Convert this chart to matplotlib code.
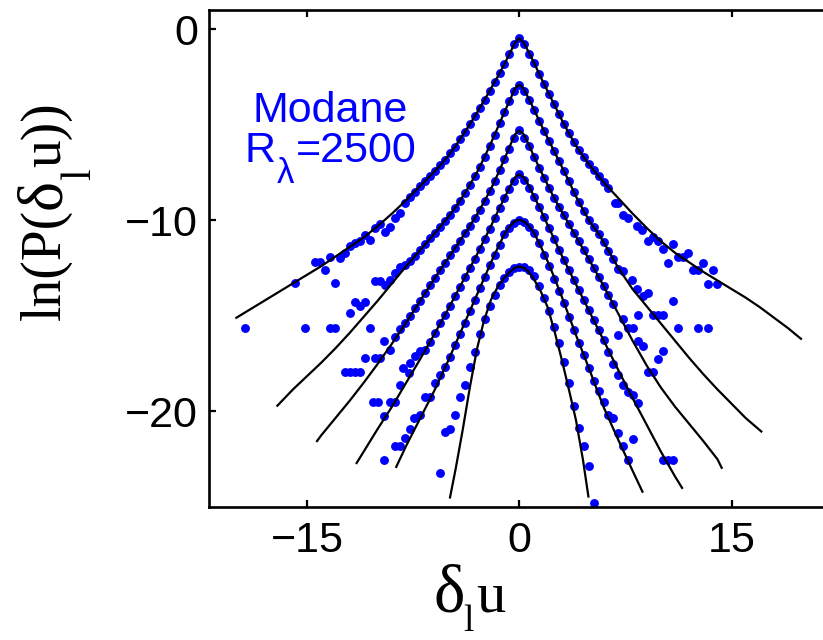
import matplotlib
matplotlib.use("Agg")
import matplotlib.pyplot as plt

# ---------------- fitted curves (black lines) ----------------
c1_line_x = [-20.0, -19, -18, -17, -16, -15, -14, -13, -12, -11, -10, -9, -8, -7, -6, -5.5, -5, -4.5, -4, -3.5, -3, -2.5, -2, -1.5, -1, -0.6, -0.3, 0,
             0.3, 0.6, 1, 1.5, 2, 2.5, 3, 3.5, 4, 4.5, 5, 5.5, 6, 7, 8, 9, 10, 11, 12, 13, 14, 15, 16, 17, 18, 19, 19.9]
c1_line_y = [-15.1, -14.65, -14.2, -13.75, -13.3, -12.85, -12.4, -11.9, -11.4, -10.9, -10.3, -9.65, -8.95, -8.2, -7.45, -7.05, -6.6, -6.1, -5.55, -4.98, -4.38, -3.75, -3.1, -2.45, -1.75, -1.15, -0.7, -0.48,
             -0.7, -1.12, -1.7, -2.5, -3.25, -4.0, -4.75, -5.45, -6.1, -6.65, -7.15, -7.6, -8.05, -8.85, -9.65, -10.4, -11.1, -11.7, -12.2, -12.7, -13.15, -13.6, -14.05, -14.55, -15.1, -15.65, -16.2]

c2_line_x = [-17.1, -16, -15, -14, -13, -12, -11, -10, -9, -8, -7, -6, -5.5, -5, -4.5, -4, -3.5, -3, -2.5, -2, -1.5, -1, -0.6, -0.3, 0,
             0.3, 0.6, 1, 1.5, 2, 2.5, 3, 3.5, 4, 4.5, 5, 5.5, 6, 7, 8, 9, 10, 11, 12, 13, 14, 15, 16, 17.1]
c2_line_y = [-19.7, -18.85, -18.15, -17.45, -16.7, -15.9, -15.05, -14.2, -13.3, -12.4, -11.55, -10.7, -10.25, -9.8, -9.3, -8.75, -8.15, -7.5, -6.75, -5.95, -5.1, -4.25, -3.6, -3.1, -2.9,
             -3.1, -3.55, -4.15, -4.95, -5.7, -6.45, -7.2, -7.95, -8.75, -9.45, -10.1, -10.6, -11.2, -12.5, -13.6, -14.5, -15.4, -16.3, -17.2, -18.05, -18.85, -19.6, -20.35, -21.05]

c3_line_x = [-14.3, -14, -13, -12, -11, -10, -9, -8, -7, -6, -5, -4, -3.5, -3, -2.5, -2, -1.5, -1, -0.6, -0.3, 0,
             0.3, 0.6, 1, 1.5, 2, 2.5, 3, 3.5, 4, 5, 6, 7, 8, 9, 10, 11, 12, 13, 14, 14.3]
c3_line_y = [-21.55, -21.25, -20.35, -19.45, -18.5, -17.5, -16.45, -15.35, -14.2, -13.05, -11.95, -10.85, -10.3, -9.7, -9.05, -8.35, -7.55, -6.7, -6.0, -5.5, -5.3,
             -5.5, -5.95, -6.6, -7.4, -8.15, -8.9, -9.55, -10.2, -10.85, -12.15, -13.5, -14.9, -16.3, -17.6, -18.75, -19.75, -20.65, -21.55, -22.5, -22.95]

c4_line_x = [-11.5, -11, -10, -9, -8, -7, -6, -5, -4, -3.5, -3, -2.5, -2, -1.5, -1, -0.6, -0.3, 0,
             0.3, 0.6, 1, 1.5, 2, 2.5, 3, 3.5, 4, 5, 6, 7, 8, 9, 10, 11, 11.5]
c4_line_y = [-22.7, -22.1, -20.9, -19.75, -18.5, -17.25, -15.95, -14.6, -13.2, -12.5, -11.8, -11.05, -10.3, -9.5, -8.75, -8.15, -7.75, -7.6,
             -7.75, -8.1, -8.7, -9.45, -10.25, -11.05, -11.85, -12.6, -13.35, -14.85, -16.35, -17.85, -19.3, -20.7, -22.1, -23.4, -24.0]

c5_line_x = [-8.7, -8, -7, -6, -5, -4, -3, -2.5, -2, -1.5, -1, -0.6, -0.3, 0,
             0.3, 0.6, 1, 1.5, 2, 2.5, 3, 3.5, 4, 4.5, 5, 5.5, 6, 7, 8, 8.7]
c5_line_y = [-22.9, -21.8, -20.35, -18.9, -17.3, -15.6, -13.9, -13.05, -12.2, -11.4, -10.65, -10.25, -10.05, -9.97,
             -10.05, -10.25, -10.6, -11.35, -12.15, -13.05, -14.0, -15.0, -16.0, -16.95, -17.9, -18.9, -19.85, -21.5, -23.1, -24.2]

c6_line_x = [-4.9, -4.5, -4, -3.5, -3, -2.5, -2, -1.5, -1, -0.6, -0.3, 0,
             0.3, 0.6, 1, 1.5, 2, 2.5, 3, 3.5, 4, 4.5, 4.88]
c6_line_y = [-24.5, -23.0, -20.95, -18.75, -16.75, -15.25, -14.15, -13.45, -12.95, -12.65, -12.48, -12.42,
             -12.48, -12.65, -13.05, -13.7, -14.55, -15.85, -17.3, -18.85, -20.45, -22.55, -24.45]

# ---------------- measured PDFs (blue dots), core of each curve ----------------
c1_dot_x = [-8.05, -7.7, -7.35, -7.0, -6.65, -6.3, -5.95, -5.6, -5.25, -4.9, -4.55, -4.2, -3.85, -3.5, -3.15, -2.8, -2.45, -2.1, -1.75, -1.4, -1.05, -0.7, -0.35, 0,
            0.35, 0.7, 1.05, 1.4, 1.75, 2.1, 2.45, 2.8, 3.15, 3.5, 3.85, 4.2, 4.55, 4.9, 5.25, 5.6, 5.95, 6.3]
c1_dot_y = [-9.1, -8.8, -8.5, -8.2, -7.94, -7.68, -7.41, -7.13, -6.83, -6.5, -6.15, -5.77, -5.38, -4.98, -4.56, -4.13, -3.69, -3.23, -2.78, -2.31, -1.82, -1.3, -0.8, -0.48,
            -0.8, -1.28, -1.78, -2.34, -2.88, -3.4, -3.93, -4.45, -4.96, -5.45, -5.9, -6.33, -6.7, -7.05, -7.38, -7.7, -8.0, -8.3]

c2_dot_x = [-8.05, -7.7, -7.35, -7.0, -6.65, -6.3, -5.95, -5.6, -5.25, -4.9, -4.55, -4.2, -3.85, -3.5, -3.15, -2.8, -2.45, -2.1, -1.75, -1.4, -1.05, -0.7, -0.35, 0,
            0.35, 0.7, 1.05, 1.4, 1.75, 2.1, 2.45, 2.8, 3.15, 3.5, 3.85, 4.2, 4.55, 4.9, 5.25, 5.6, 5.95, 6.3, 6.65]
c2_dot_y = [-12.35, -12.15, -11.85, -11.55, -11.25, -10.95, -10.65, -10.35, -10.03, -9.7, -9.35, -8.98, -8.57, -8.15, -7.7, -7.2, -6.67, -6.11, -5.52, -4.93, -4.33, -3.75, -3.25, -2.9,
            -3.25, -3.7, -4.23, -4.79, -5.33, -5.85, -6.38, -6.9, -7.43, -7.95, -8.5, -9.03, -9.52, -9.98, -10.35, -10.72, -11.15, -11.6, -12.05]

c3_dot_x = [-8.78, -8.42, -8.05, -7.7, -7.35, -7.0, -6.65, -6.3, -5.95, -5.6, -5.25, -4.9, -4.55, -4.2, -3.85, -3.5, -3.15, -2.8, -2.45, -2.1, -1.75, -1.4, -1.05, -0.7, -0.35, 0,
            0.35, 0.7, 1.05, 1.4, 1.75, 2.1, 2.45, 2.8, 3.15, 3.5, 3.85, 4.2, 4.55, 4.9, 5.25, 5.6, 5.95, 6.3]
c3_dot_y = [-16.1, -15.7, -15.4, -15.0, -14.6, -14.2, -13.8, -13.4, -13.0, -12.6, -12.23, -11.84, -11.45, -11.07, -10.69, -10.3, -9.88, -9.44, -8.98, -8.49, -7.97, -7.38, -6.78, -6.25, -5.72, -5.3,
            -5.7, -6.13, -6.68, -7.24, -7.78, -8.3, -8.83, -9.29, -9.75, -10.2, -10.65, -11.11, -11.57, -12.02, -12.49, -12.96, -13.43, -13.92]

c4_dot_x = [-6.65, -6.3, -5.95, -5.6, -5.25, -4.9, -4.55, -4.2, -3.85, -3.5, -3.15, -2.8, -2.45, -2.1, -1.75, -1.4, -1.05, -0.7, -0.35, 0,
            0.35, 0.7, 1.05, 1.4, 1.75, 2.1, 2.45, 2.8, 3.15, 3.5, 3.85, 4.2, 4.55, 4.9, 5.25, 5.6, 5.95, 6.3, 6.65, 7.0, 7.35, 7.7]
c4_dot_y = [-16.8, -16.35, -15.9, -15.4, -14.95, -14.46, -13.97, -13.48, -12.99, -12.5, -12.01, -11.5, -10.98, -10.46, -9.9, -9.35, -8.82, -8.35, -7.92, -7.6,
            -7.88, -8.3, -8.77, -9.3, -9.85, -10.41, -10.97, -11.53, -12.08, -12.6, -13.12, -13.65, -14.18, -14.7, -15.23, -15.75, -16.28, -16.9, -17.5, -18.1, -18.6, -19.0]

c5_dot_x = [-5.95, -5.6, -5.25, -4.9, -4.55, -4.2, -3.85, -3.5, -3.15, -2.8, -2.45, -2.1, -1.75, -1.4, -1.05, -0.7, -0.35, 0,
            0.35, 0.7, 1.05, 1.4, 1.75, 2.1, 2.45, 2.8, 3.15, 3.5, 3.85, 4.2, 4.55, 4.9, 5.25, 5.6, 5.95, 6.3, 6.65, 7.0, 7.35, 7.7]
c5_dot_y = [-18.5, -18.1, -17.7, -17.13, -16.54, -15.94, -15.35, -14.75, -14.16, -13.56, -12.97, -12.36, -11.82, -11.28, -10.73, -10.38, -10.13, -9.97,
            -10.1, -10.35, -10.67, -11.2, -11.8, -12.4, -13.05, -13.7, -14.35, -15.05, -15.75, -16.4, -17.05, -17.75, -18.4, -18.95, -19.5, -20.17, -20.35, -21.13, -21.83, -22.53]

c6_dot_x = [-5.6, -5.25, -4.9, -4.55, -4.2, -3.85, -3.5, -3.15, -2.8, -2.45, -2.1, -1.75, -1.4, -1.05, -0.7, -0.35, 0,
            0.35, 0.7, 1.05, 1.4, 1.75, 2.1, 2.45, 2.8, 3.15, 3.5, 3.85, 4.2, 4.55, 4.9, 5.25]
c6_dot_y = [-23.2, -21.1, -20.9, -20.17, -19.26, -18.6, -17.7, -16.9, -15.95, -15.15, -14.5, -13.9, -13.4, -13.0, -12.72, -12.5, -12.42,
            -12.45, -12.6, -12.94, -13.42, -14.07, -14.76, -15.58, -16.42, -17.39, -18.52, -19.74, -20.87, -21.79, -22.87, -24.79]

# ---------------- scattered tail points ----------------
tail_x = [-19.39, -15.85, -15.15, -14.44, -14.08, -13.73, -13.38, -13.38, -13.02, -13.02, -12.67, -12.31, -11.96, -11.6, -11.25, -10.9, -10.55, -10.2, -9.84, -9.49, -9.13, -8.78, -8.42,
          -11.6, -11.25, -10.9, -11.96, -10.55, -10.2, -9.84, -9.49, -9.13, -8.78, -8.42,
          -12.3, -11.95, -11.6, -11.25, -10.9, -10.2, -9.84, -9.6, -9.13,
          -10.32, -9.96, -9.13, -8.78, -9.6, -9.6, -8.78, -8.42, -8.07, -7.7, -7.48, -7.0, -8.42, -8.19, -7.83, -7.72, -7.36, -7.0, -6.66, -6.3,
          6.76, 7.0, 7.35, 7.7, 8.3, 8.65, 9.12, 9.47, 9.83, 10.18, 10.53, 10.88, 11.24, 11.6, 11.95, 12.25, 12.6, 12.95, 13.3, 13.65, 14.0,
          7.0, 7.35, 7.94, 8.3, 8.77, 9.12, 8.41, 9.47, 9.83, 10.18, 10.84, 11.19, 12.6, 13.3, 10.13, 9.78, 9.42, 9.12,
          6.65, 7.0, 7.35, 7.7, 8.06, 8.41, 8.77, 8.06, 8.41, 8.06, 10.18, 10.53, 10.88]
tail_y = [-15.64, -13.28, -15.64, -12.2, -12.2, -12.6, -11.93, -15.64, -15.64, -13.28, -11.95, -11.72, -11.33, -11.19, -11.11, -10.76, -11.02, -10.41, -10.2, -10.59, -10.33, -9.89, -9.63,
          -14.25, -14.51, -14.25, -14.85, -15.64, -13.2, -13.2, -13.38, -13.11, -12.76, -12.42,
          -17.94, -17.94, -17.94, -17.94, -17.21, -17.21, -17.21, -16.34, -16.77,
          -19.5, -19.5, -19.53, -19.53, -20.22, -22.53, -21.83, -21.83, -21.4, -20.93, -20.35, -20.18, -18.6, -17.73, -17.99, -17.47, -17.12, -16.86, -19.22, -19.22,
          -9.1, -9.1, -9.71, -9.89, -10.32, -10.5, -11.11, -10.85, -11.1, -11.5, -12.24, -11.23, -11.93, -11.93, -11.72, -12.62, -12.62, -12.24, -13.32, -12.62, -13.32,
          -12.55, -12.67, -13.11, -13.6, -13.98, -13.81, -14.94, -14.94, -14.94, -14.94, -14.24, -15.64, -15.64, -15.64, -16.82, -17.24, -17.94, -17.94,
          -14.4, -15.99, -15.16, -15.64, -15.64, -16.34, -16.6, -19.13, -19.56, -21.44, -22.53, -22.53, -22.53]

x_ticks = [-15, 0, 15]
x_tick_labels = ["\u221215", "0", "15"]
y_ticks = [-20, -10, 0]
y_tick_labels = ["\u221220", "\u221210", "0"]

BLUE = "#0000ff"
W, H = 823, 640

fig = plt.figure(figsize=(W / 100, H / 100), dpi=100)
ax = fig.add_axes([0.254, 0.2078, 0.7553, 0.7766])

dots = [(c1_dot_x, c1_dot_y), (c2_dot_x, c2_dot_y), (c3_dot_x, c3_dot_y),
        (c4_dot_x, c4_dot_y), (c5_dot_x, c5_dot_y), (c6_dot_x, c6_dot_y), (tail_x, tail_y)]
for dx, dy in dots:
    ax.plot(dx, dy, "o", ms=6.4, mfc=BLUE, mec="none", zorder=2)

lines = [(c1_line_x, c1_line_y), (c2_line_x, c2_line_y), (c3_line_x, c3_line_y),
         (c4_line_x, c4_line_y), (c5_line_x, c5_line_y), (c6_line_x, c6_line_y)]
for lx, ly in lines:
    ax.plot(lx, ly, "-", color="black", lw=1.6, zorder=3)

ax.set_xlim(-21.93, 22.0)
ax.set_ylim(-25, 1)
ax.set_xticks(x_ticks)
ax.set_yticks(y_ticks)
ax.set_xticklabels(x_tick_labels)
ax.set_yticklabels(y_tick_labels)
for s in ax.spines.values():
    s.set_linewidth(1.9)
ax.tick_params(direction="in", length=5, width=1.6, top=True, right=True, labelsize=31)
ax.tick_params(axis="x", pad=10)
ax.tick_params(axis="y", pad=8)
for lab in ax.get_xticklabels() + ax.get_yticklabels():
    lab.set_fontfamily("Liberation Sans")


def P(x, y):
    return (x / W, 1 - y / H)


fig.canvas.draw()
rend = fig.canvas.get_renderer()

# inset annotation
fig.text(*P(330, 122), "Modane", color=BLUE, fontsize=31, ha="center", va="baseline",
         family="Liberation Sans")
tR = fig.text(*P(245, 162), "R", color=BLUE, fontsize=31, ha="left", va="baseline",
              family="Liberation Sans")
wR = tR.get_window_extent(rend).width
tL = fig.text(*P(245 + wR + 1, 183), "\u03bb", color=BLUE, fontsize=25, ha="left",
              va="baseline", family="Liberation Sans")
wL = tL.get_window_extent(rend).width
fig.text(*P(245 + wR + wL + 2, 162), "=2500", color=BLUE, fontsize=31, ha="left",
         va="baseline", family="Liberation Sans")

SERIF = "Liberation Serif"
# x label: delta_l u
xa = 433
t1 = fig.text(*P(xa, 611), "\u03b4", fontsize=48, family=SERIF, ha="left", va="baseline")
w1 = t1.get_window_extent(rend).width
t2 = fig.text(*P(xa + w1 - 1, 631), "l", fontsize=27, family=SERIF, ha="left", va="baseline")
w2 = t2.get_window_extent(rend).width
fig.text(*P(xa + w1 + w2 + 1, 611), "u", fontsize=42, family=SERIF, ha="left", va="baseline")

# y label: ln(P(delta_l u)) rotated
yb = 320
kw = dict(rotation=90, rotation_mode="anchor", ha="left", va="baseline", family=SERIF)
s1 = fig.text(*P(60, yb), "ln(P(", fontsize=40, **kw)
h1 = s1.get_window_extent(rend).height
s2 = fig.text(*P(60, yb - h1), "\u03b4", fontsize=46, **kw)
h2 = s2.get_window_extent(rend).height
s3 = fig.text(*P(90, yb - h1 - h2 + 1), "l", fontsize=30, **kw)
h3 = s3.get_window_extent(rend).height
fig.text(*P(60, yb - h1 - h2 - h3), "u))", fontsize=40, **kw)

fig.savefig("out.png", dpi=100)
